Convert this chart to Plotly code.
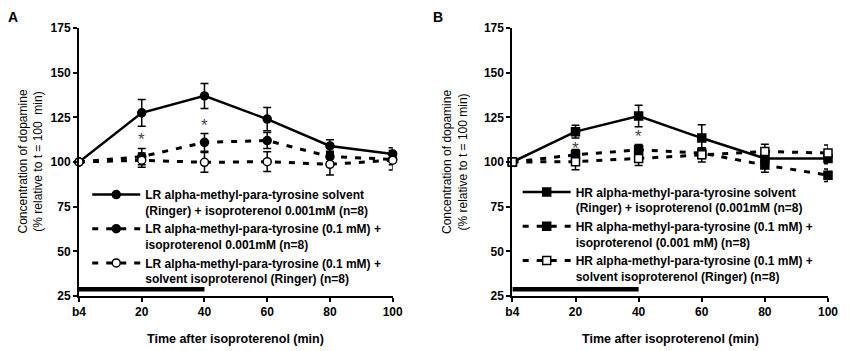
import plotly.graph_objects as go
from plotly.subplots import make_subplots

x_pos = [0, 1, 2, 3, 4, 5]
x_labels = ["b4", "20", "40", "60", "80", "100"]
y_ticks = [25, 50, 75, 100, 125, 150, 175]

# Panel A (LR)
a_solid = [100, 127.5, 137, 124, 109, 104.5]
a_solid_err = [0, 7.5, 7, 6.5, 3.5, 3.5]
a_filled = [100, 103, 111, 112, 103, 101.5]
a_filled_err = [0, 4.5, 5, 4.5, 3, 3]
a_open = [100, 101, 99.8, 100.2, 98.7, 101]
a_open_err = [0, 4, 5.5, 5.5, 6, 5.5]
a_names = [
    "LR alpha-methyl-para-tyrosine solvent<br>(Ringer) + isoproterenol 0.001mM (n=8)",
    "LR alpha-methyl-para-tyrosine (0.1 mM) +<br>isoproterenol 0.001mM (n=8)",
    "LR alpha-methyl-para-tyrosine (0.1 mM) +<br>solvent isoproterenol (Ringer) (n=8)",
]
a_star_x = [1, 2]
a_star_y = [114, 122]

# Panel B (HR)
b_solid = [100, 117, 125.7, 113.4, 102, 102]
b_solid_err = [0, 3.5, 6, 7.5, 3, 3]
b_filled = [100, 104, 106.8, 105, 98.3, 92.6]
b_filled_err = [0, 3, 3, 3, 4, 3.5]
b_open = [100, 100.2, 102, 104, 105.9, 105]
b_open_err = [0, 4.5, 4, 4, 4, 4.5]
b_names = [
    "HR alpha-methyl-para-tyrosine solvent<br>(Ringer) + isoproterenol (0.001mM (n=8)",
    "HR alpha-methyl-para-tyrosine (0.1 mM) +<br>isoproterenol (0.001 mM) (n=8)",
    "HR alpha-methyl-para-tyrosine (0.1 mM) +<br>solvent isoproterenol (Ringer) (n=8)",
]
b_star_x = [1, 2]
b_star_y = [109.5, 116]

# isoproterenol application bar
bar_x = [0, 2]
bar_y = [28.8, 28.8]

FONT = "Liberation Sans, Arial, sans-serif"

fig = make_subplots(rows=1, cols=2, horizontal_spacing=0.1598)
fig.update_xaxes(domain=[0, 0.4188], row=1, col=1)
fig.update_xaxes(domain=[0.5786, 1.0], row=1, col=2)


def add_panel(col, vals, errs, names, symbol, legend):
    styles = [
        dict(dash="solid", width=2.5, fill="black"),
        dict(dash="6px,8px", width=3, fill="black"),
        dict(dash="6px,8px", width=3, fill="white"),
    ]
    for v, e, n, s in zip(vals, errs, names, styles):
        fig.add_trace(
            go.Scatter(
                x=x_pos, y=v, name=n, mode="lines+markers",
                line=dict(color="black", width=s["width"], dash=s["dash"]),
                marker=dict(symbol=symbol, size=8, color=s["fill"],
                            line=dict(color="black", width=1.5)),
                error_y=dict(type="data", array=e, visible=True,
                             color="black", thickness=1.5, width=4),
                cliponaxis=False, legend=legend,
            ),
            row=1, col=col,
        )
    fig.add_trace(
        go.Scatter(x=bar_x, y=bar_y, mode="lines",
                   line=dict(color="black", width=4.5),
                   showlegend=False, hoverinfo="skip", cliponaxis=False),
        row=1, col=col,
    )


add_panel(1, [a_solid, a_filled, a_open], [a_solid_err, a_filled_err, a_open_err],
          a_names, "circle", "legend")
add_panel(2, [b_solid, b_filled, b_open], [b_solid_err, b_filled_err, b_open_err],
          b_names, "square", "legend2")

axis_common = dict(
    showline=True, linecolor="black", linewidth=2, ticks="outside",
    ticklen=4, tickwidth=2, tickcolor="black", showgrid=False, zeroline=False,
    tickfont=dict(family=FONT, size=12, color="black", weight="bold"),
)
for c in (1, 2):
    fig.update_xaxes(range=[0, 5], tickvals=x_pos, ticktext=x_labels,
                     **axis_common, row=1, col=c)
    fig.update_yaxes(range=[25, 175], tickvals=y_ticks, **axis_common,
                     row=1, col=c)

annotations = []
for sx, sy, xr, yr in [(a_star_x, a_star_y, "x", "y"), (b_star_x, b_star_y, "x2", "y2")]:
    for xx, yy in zip(sx, sy):
        annotations.append(dict(x=xx, y=yy, xref=xr, yref=yr, text="*",
                                showarrow=False, yshift=-3,
                                font=dict(family=FONT, size=17, color="#444")))

ytitle_a = "Concentration of dopamine<br>(% relative to t = 100  min)"
ytitle_b = "Concentration of dopamine<br>(% relative to t = 100 min)"
for px, tt in ((-0.0647, ytitle_a), (0.502, ytitle_b)):
    annotations.append(dict(x=px, y=0.5, xref="paper", yref="paper", text=tt,
                            textangle=-90, showarrow=False, xanchor="center",
                            yanchor="middle",
                            font=dict(family=FONT, size=12, color="black")))
for cx in (0.2094, 0.7893):
    annotations.append(dict(x=cx, y=-0.16, xref="paper", yref="paper",
                            text="Time after isoproterenol (min)", showarrow=False,
                            xanchor="center", yanchor="middle",
                            font=dict(family=FONT, size=12.5, color="black", weight="bold")))
for lx, lab in ((-0.0885, "A"), (0.4795, "B")):
    annotations.append(dict(x=lx, y=1.0746, xref="paper", yref="paper", text=lab,
                            showarrow=False, xanchor="center", yanchor="top",
                            borderpad=0,
                            font=dict(family=FONT, size=14, color="black", weight="bold")))

legend_common = dict(
    bgcolor="rgba(0,0,0,0)", borderwidth=0, valign="top", tracegroupgap=0,
    itemwidth=48, yanchor="top", xanchor="left",
    font=dict(family=FONT, size=12, color="black", weight="bold"),
)

fig.update_layout(
    width=842, height=343,
    margin=dict(l=71, r=14, t=20, b=55),
    plot_bgcolor="white", paper_bgcolor="white",
    annotations=annotations,
    legend=dict(x=0.011, y=0.432, **legend_common),
    legend2=dict(x=0.5857, y=0.441, **legend_common),
    showlegend=True,
)

fig.write_html("out.html")
